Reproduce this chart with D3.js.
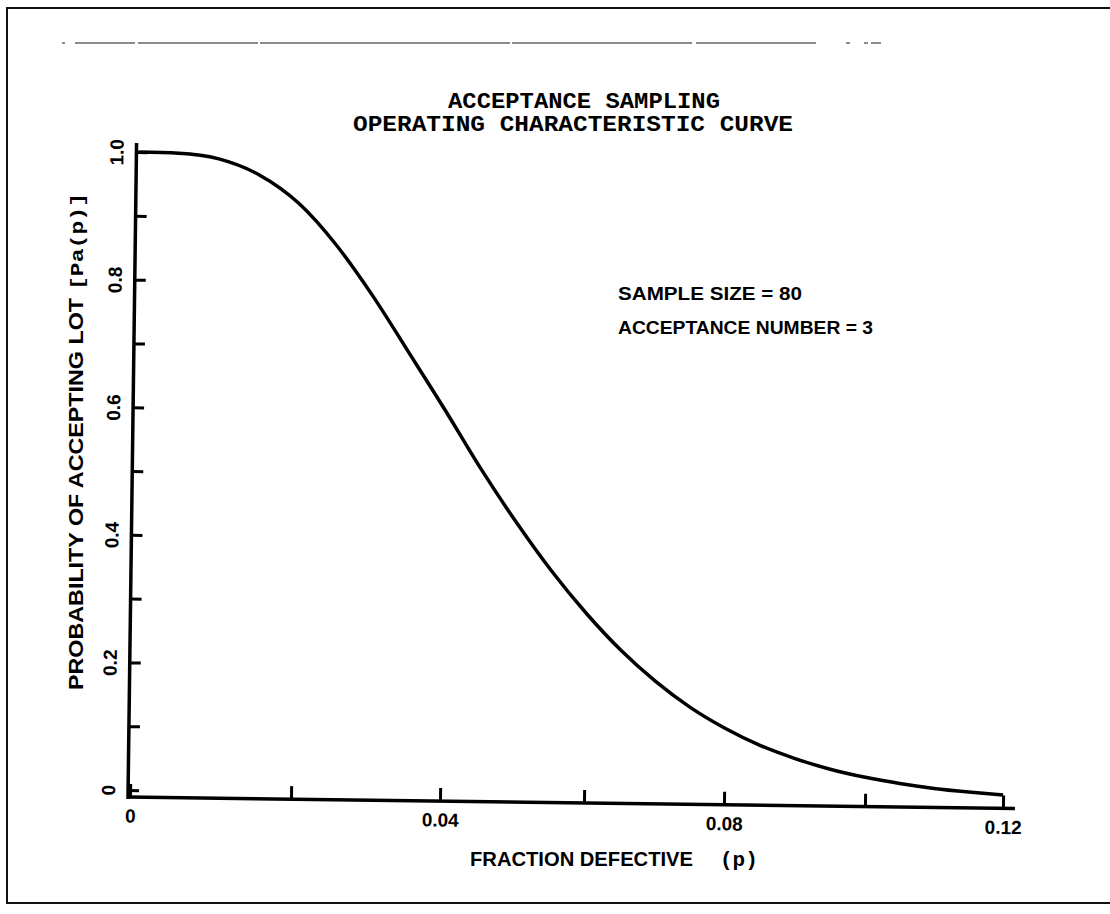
<!DOCTYPE html>
<html>
<head>
<meta charset="utf-8">
<script src="https://cdn.jsdelivr.net/npm/d3@7"></script>
<style>
    body { margin: 0; background: #fff; }
    .container { width: 1110px; height: 914px; }
    .sans { font-family: "Liberation Sans Narrow", "Arial Narrow", "Liberation Sans", Arial, sans-serif; font-weight: bold; font-stretch: condensed; }
    .mono { font-family: "Liberation Mono", "DejaVu Sans Mono", monospace; font-weight: bold; }
</style>
</head>
<body>
<div class="container"></div>
<script>
// values (p, Pa(p))
let pValues = [0, 0.005, 0.01, 0.015, 0.02, 0.025, 0.03, 0.035, 0.04, 0.045, 0.05, 0.055, 0.06,
    0.065, 0.07, 0.075, 0.08, 0.085, 0.09, 0.095, 0.10, 0.105, 0.11, 0.115, 0.12];
let paValues = [1.0, 0.999, 0.991, 0.967, 0.923, 0.860, 0.781, 0.692, 0.602, 0.512, 0.429, 0.353, 0.286,
    0.229, 0.181, 0.141, 0.109, 0.083, 0.063, 0.047, 0.035, 0.026, 0.019, 0.014, 0.010];

let xTicks = [0, 0.02, 0.04, 0.06, 0.08, 0.10, 0.12];
let xTickLabels = ["0", "", "0.04", "", "0.08", "", "0.12"];
let yTicks = [0, 0.1, 0.2, 0.3, 0.4, 0.5, 0.6, 0.7, 0.8, 0.9, 1.0];
let yTickLabels = ["0", "", "0.2", "", "0.4", "", "0.6", "", "0.8", "", "1.0"];

let titleLines = ["ACCEPTANCE SAMPLING", "OPERATING CHARACTERISTIC CURVE"];
let noteLines = ["SAMPLE SIZE = 80", "ACCEPTANCE NUMBER = 3"];

let width = 1110;
let height = 914;

let svg = d3.select(".container")
    .append("svg")
    .attr("width", width)
    .attr("height", height);

// the scanned plot is slightly skewed, so the scale is piecewise
let x = d3.scaleLinear()
    .domain(xTicks)
    .range([130, 291, 440, 584, 724, 865, 1003]);

let y = d3.scaleLinear()
    .domain([0, 1])
    .range([790, 152]);

let axisY = 797;
let axisX = 128;
let tilt = 0.75;

// page frame (right edge runs off the scan)
svg.append("rect")
    .attr("x", 7)
    .attr("y", 8)
    .attr("width", 1120)
    .attr("height", 895)
    .attr("fill", "none")
    .attr("stroke", "#111")
    .attr("stroke-width", 2);

// faint broken rule near top of scan
svg.append("line")
    .attr("x1", 62)
    .attr("x2", 935)
    .attr("y1", 43)
    .attr("y2", 43)
    .attr("stroke", "#666")
    .attr("stroke-width", 1.5)
    .attr("stroke-dasharray", "3 10 60 3 120 2 250 2 180 4 120 30 4 14 4");

// title
svg.selectAll(".title")
    .data(titleLines)
    .enter()
    .append("text")
    .attr("class", "title mono")
    .attr("x", function (d, i) { return i == 0 ? 448 : 353; })
    .attr("y", function (d, i) { return 108 + i * 23; })
    .attr("textLength", function (d, i) { return i == 0 ? 272 : 440; })
    .attr("lengthAdjust", "spacingAndGlyphs")
    .style("font-size", "22px")
    .text(function (d) { return d; });

// everything on the plot is turned a little, like the scan
let plot = svg.append("g")
    .attr("transform", "rotate(" + tilt + "," + axisX + "," + axisY + ")");

// y axis
let yAxis = d3.axisLeft(y)
    .tickValues(yTicks)
    .tickSize(-11)
    .tickFormat(function (d, i) { return yTickLabels[i]; });

let gy = plot.append("g")
    .attr("transform", "translate(" + axisX + ",0)")
    .call(yAxis);

gy.select(".domain").remove();
gy.selectAll("line")
    .attr("stroke", "#000")
    .attr("stroke-width", 3);
gy.selectAll("text")
    .attr("class", "sans")
    .attr("transform", "rotate(-90)")
    .attr("x", 0)
    .attr("y", -13)
    .attr("dy", 0)
    .attr("text-anchor", "middle")
    .attr("fill", "#000")
    .style("font-size", "19px");

gy.append("line")
    .attr("x1", 0)
    .attr("x2", 0)
    .attr("y1", y(1) - 9)
    .attr("y2", axisY + 2)
    .attr("stroke", "#000")
    .attr("stroke-width", 3.5);

// x axis
let xAxis = d3.axisBottom(x)
    .tickValues(xTicks)
    .tickSize(-13)
    .tickPadding(12)
    .tickFormat(function (d, i) { return xTickLabels[i]; });

let gx = plot.append("g")
    .attr("transform", "translate(0," + axisY + ")")
    .call(xAxis);

gx.select(".domain").remove();
gx.selectAll("line")
    .attr("stroke", "#000")
    .attr("stroke-width", 3);
gx.selectAll("text")
    .attr("class", "sans")
    .attr("fill", "#000")
    .style("font-size", "19px");

gx.append("line")
    .attr("x1", axisX)
    .attr("x2", x(0.12) + 12)
    .attr("y1", 0)
    .attr("y2", 0)
    .attr("stroke", "#000")
    .attr("stroke-width", 3.5);

// OC curve
let curveData = pValues.map(function (p, i) {
    return { p: p, pa: paValues[i] };
});

plot.append("path")
    .datum(curveData)
    .attr("class", "curve")
    .attr("fill", "none")
    .attr("stroke", "#000")
    .attr("stroke-width", 3.5)
    .attr("d", d3.line()
        .curve(d3.curveMonotoneX)
        .x(function (d) { return x(d.p); })
        .y(function (d) { return y(d.pa); }));

// axis titles
let xTitle = svg.append("text")
    .attr("x", 470)
    .attr("y", 866);
xTitle.append("tspan")
    .attr("class", "sans")
    .attr("textLength", 223)
    .attr("lengthAdjust", "spacingAndGlyphs")
    .style("font-size", "21px")
    .text("FRACTION DEFECTIVE");
xTitle.append("tspan")
    .attr("class", "mono")
    .attr("x", 720)
    .style("font-size", "21px")
    .text("(p)");

let yTitle = svg.append("text")
    .attr("transform", "translate(83,690) rotate(-90)");
yTitle.append("tspan")
    .attr("class", "sans")
    .attr("textLength", 392)
    .attr("lengthAdjust", "spacingAndGlyphs")
    .style("font-size", "21px")
    .text("PROBABILITY OF ACCEPTING LOT");
yTitle.append("tspan")
    .attr("class", "mono")
    .attr("x", 400)
    .attr("textLength", 97)
    .attr("lengthAdjust", "spacingAndGlyphs")
    .style("font-size", "19px")
    .text("[Pa(p)]");

// sampling plan note
svg.selectAll(".note")
    .data(noteLines)
    .enter()
    .append("text")
    .attr("class", "note sans")
    .attr("x", 618)
    .attr("y", function (d, i) { return 300 + i * 34; })
    .attr("textLength", function (d, i) { return i == 0 ? 184 : 255; })
    .attr("lengthAdjust", "spacingAndGlyphs")
    .style("font-size", "18px")
    .text(function (d) { return d; });
</script>
</body>
</html>
